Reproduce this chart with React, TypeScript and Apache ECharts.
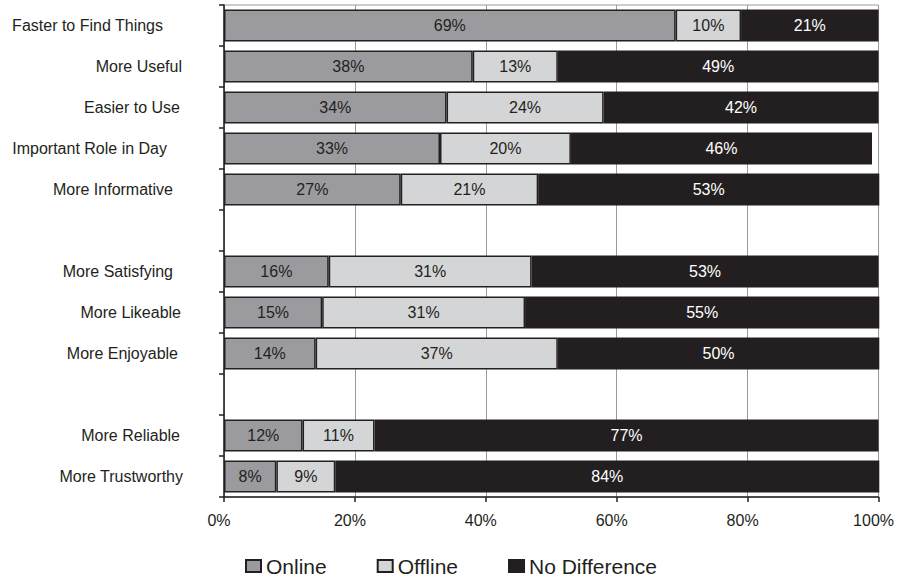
import { useEffect, useRef } from 'react';
import * as echarts from 'echarts';

// Rows from top to bottom; the blank entries are spacer rows between groups.
const categories = [
  'Faster to Find Things',
  'More Useful',
  'Easier to Use',
  'Important Role in Day',
  'More Informative',
  '',
  'More Satisfying',
  'More Likeable',
  'More Enjoyable',
  ' ',
  'More Reliable',
  'More Trustworthy',
];

// Percent of respondents per row
const online = [69, 38, 34, 33, 27, '-', 16, 15, 14, '-', 12, 8];
const offline = [10, 13, 24, 20, 21, '-', 31, 31, 37, '-', 11, 9];
const noDifference = [21, 49, 42, 46, 53, '-', 53, 55, 50, '-', 77, 84];

// Extra right padding per row label (the labels sit slightly ragged)
const labelIndent = [20, 1, 3, 16, 10, 0, 10, 2, 5, 0, 3, 0];

const FONT = "'Liberation Sans', Arial, Helvetica, sans-serif";
const INK = '#231f20';

export default function App() {
  const ref = useRef<HTMLDivElement>(null);

  useEffect(() => {
    if (!ref.current) return;
    const chart = echarts.init(ref.current, null, { renderer: 'svg' });

    const rich: Record<string, any> = {};
    labelIndent.forEach((p, i) => {
      rich['r' + i] = {
        fontSize: 16,
        fontFamily: FONT,
        color: INK,
        padding: [0, p, 0, 0],
      };
    });

    const seriesDefs = [
      { name: 'Online', data: online, color: '#9b9b9f', text: INK },
      { name: 'Offline', data: offline, color: '#d4d5d7', text: INK },
      { name: 'No Difference', data: noDifference, color: INK, text: '#ffffff' },
    ];

    chart.setOption({
      animation: false,
      backgroundColor: '#ffffff',
      textStyle: { fontFamily: FONT },
      grid: {
        left: 224,
        right: 14,
        top: 5,
        bottom: 80,
        show: true,
        borderColor: '#9a9a9a',
        borderWidth: 1,
      },
      legend: {
        left: 240,
        top: 550,
        itemWidth: 15,
        itemHeight: 12,
        itemGap: 50,
        icon: 'rect',
        textStyle: {
          fontSize: 21,
          color: INK,
          fontFamily: FONT,
          lineHeight: 22,
        },
        data: seriesDefs.map((s) => s.name),
      },
      xAxis: {
        type: 'value',
        min: 0,
        max: 100,
        interval: 20,
        axisLine: { show: true, lineStyle: { color: INK, width: 1.5 } },
        axisTick: { show: true, length: 5, lineStyle: { color: INK, width: 1.5 } },
        axisLabel: {
          formatter: '{value}%',
          fontSize: 16,
          color: INK,
          fontFamily: FONT,
          margin: 15,
          padding: [0, 10, 0, 0],
        },
        splitLine: { show: true, lineStyle: { color: '#9a9a9a', width: 1 } },
      },
      yAxis: {
        type: 'category',
        inverse: true,
        data: categories,
        axisLine: { show: true, lineStyle: { color: INK, width: 1.5 } },
        axisTick: { show: true, length: 5, alignWithLabel: false, lineStyle: { color: INK, width: 1.5 } },
        axisLabel: {
          margin: 41,
          formatter: (value: string, index: number) => (value.trim() ? `{r${index}|${value}}` : ''),
          rich,
        },
        splitLine: { show: false },
      },
      series: seriesDefs.map((s) => ({
        type: 'bar',
        name: s.name,
        stack: 'total',
        data: s.data,
        barCategoryGap: '22%',
        itemStyle: { color: s.color, borderColor: INK, borderWidth: 1.5 },
        label: {
          show: true,
          position: 'inside',
          formatter: '{c}%',
          color: s.text,
          fontSize: 16,
          fontFamily: FONT,
        },
        emphasis: { disabled: true },
      })),
    });

    return () => chart.dispose();
  }, []);

  return (
    <div
      ref={ref}
      style={{ position: 'absolute', left: 0, top: 0, width: 897, height: 577 }}
    />
  );
}
